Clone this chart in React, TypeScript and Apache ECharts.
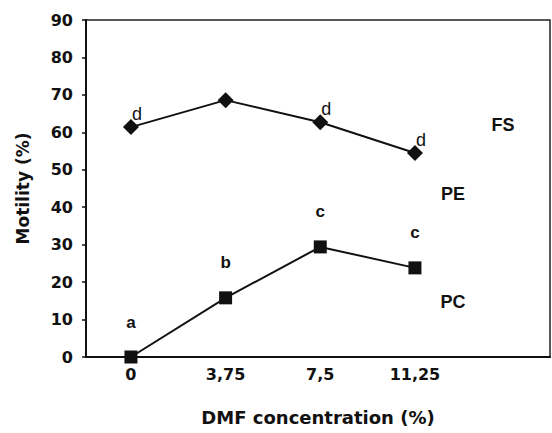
import React, { useEffect, useRef } from "react";
import * as echarts from "echarts";

const concentrations = [0, 3.75, 7.5, 11.25];
const tickLabels = ["0", "3,75", "7,5", "11,25"];
const fsValues = [61.4, 68.6, 62.7, 54.5];
const pcValues = [0, 15.8, 29.4, 23.8];
const fsLetters = ["d", "", "d", "d"];
const pcLetters = ["a", "b", "c", "c"];
const seriesTags = ["FS", "PE", "PC"];

const FONT = "'DejaVu Sans', Arial, sans-serif";
const LFONT = "'Liberation Sans', Arial, sans-serif";

export default function App() {
  const ref = useRef<HTMLDivElement>(null);
  useEffect(() => {
    if (!ref.current) return;
    const chart = echarts.init(ref.current, null, { renderer: "svg" });
    const labelFor = (letters: string[]) => (p: any) => letters[p.dataIndex] || "";
    const tagStyle = { fontFamily: LFONT, fontWeight: "bold", fontSize: 18, fill: "#111", align: "center", verticalAlign: "middle" };
    chart.setOption({
      animation: false,
      backgroundColor: "#fff",
      grid: {
        left: 86,
        right: 2,
        top: 20,
        bottom: 76,
        show: true,
        borderColor: "#222",
        borderWidth: 1.5,
      },
      xAxis: {
        type: "value",
        min: -1.78,
        max: 16.6,
        name: "DMF concentration (%)",
        nameLocation: "middle",
        nameGap: 51,
        nameTextStyle: { fontFamily: FONT, fontWeight: "bold", fontSize: 18, color: "#111" },
        axisLine: { show: true, onZero: false, lineStyle: { color: "#111", width: 2 } },
        axisTick: { show: false },
        splitLine: { show: false },
        axisLabel: {
          customValues: concentrations,
          formatter: (v: number) => {
            const i = concentrations.indexOf(v);
            return i >= 0 ? tickLabels[i] : "";
          },
          fontFamily: FONT,
          fontWeight: "bold",
          fontSize: 16,
          color: "#111",
          margin: 9,
        },
      },
      yAxis: {
        type: "value",
        min: 0,
        max: 90,
        interval: 10,
        name: "Motility (%)",
        nameLocation: "middle",
        nameGap: 55,
        nameTextStyle: { fontFamily: FONT, fontWeight: "bold", fontSize: 17, color: "#111" },
        axisLine: { show: true, onZero: false, lineStyle: { color: "#111", width: 2 } },
        axisTick: { show: true, length: 4, lineStyle: { color: "#111", width: 1.5 } },
        splitLine: { show: false },
        axisLabel: {
          fontFamily: FONT,
          fontWeight: "bold",
          fontSize: 16,
          color: "#111",
          margin: 13,
        },
      },
      series: [
        {
          name: "FS",
          type: "line",
          data: concentrations.map((c, i) => [c, fsValues[i]]),
          symbol: "diamond",
          symbolSize: 16,
          lineStyle: { color: "#111", width: 2 },
          itemStyle: { color: "#111" },
          label: {
            show: true,
            position: "top",
            offset: [6, 9],
            formatter: labelFor(fsLetters),
            fontFamily: LFONT,
            fontSize: 18,
            color: "#111",
          },
        },
        {
          name: "PC",
          type: "line",
          data: concentrations.map((c, i) => [c, pcValues[i]]),
          symbol: "rect",
          symbolSize: 13,
          lineStyle: { color: "#111", width: 2 },
          itemStyle: { color: "#111" },
          label: {
            show: true,
            position: "top",
            distance: 20,
            formatter: labelFor(pcLetters),
            fontFamily: LFONT,
            fontWeight: "bold",
            fontSize: 17,
            color: "#111",
          },
        },
      ],
      graphic: [
        { type: "text", x: 503, y: 125, style: { ...tagStyle, text: seriesTags[0] } },
        { type: "text", x: 453, y: 194, style: { ...tagStyle, text: seriesTags[1] } },
        { type: "text", x: 453, y: 302, style: { ...tagStyle, text: seriesTags[2] } },
      ],
    });
    return () => chart.dispose();
  }, []);
  return <div ref={ref} style={{ width: 552, height: 433, position: "absolute", left: 0, top: 0 }} />;
}
